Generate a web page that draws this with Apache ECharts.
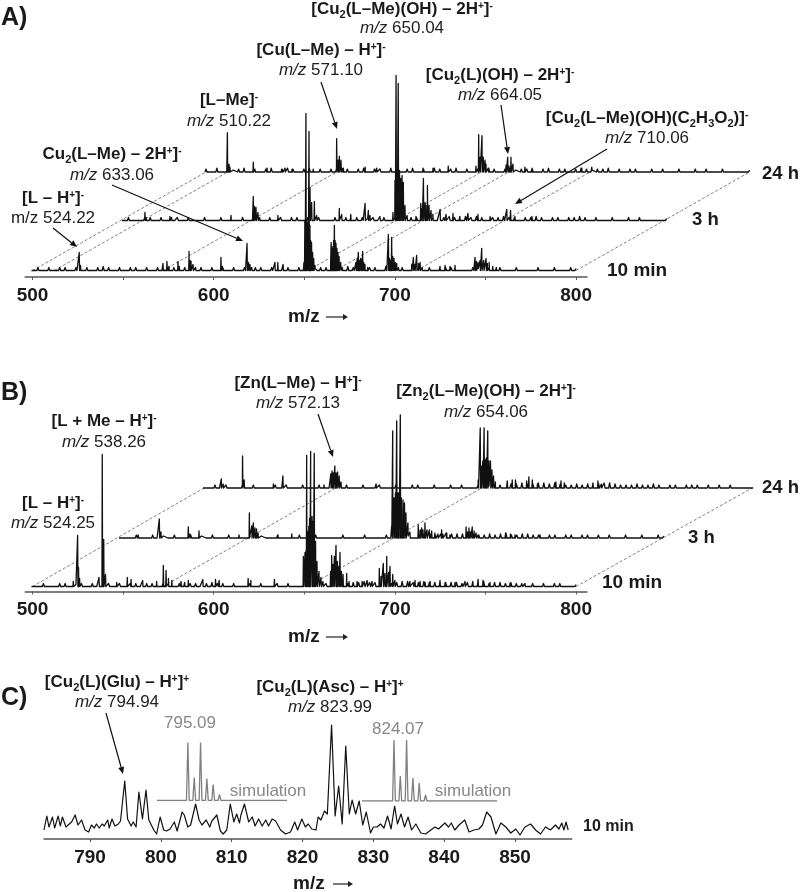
<!DOCTYPE html>
<html><head><meta charset="utf-8">
<style>html,body{margin:0;padding:0;background:#fff}#c{width:800px;height:892px}</style>
<script src="https://cdn.jsdelivr.net/npm/echarts@6/dist/echarts.min.js"></script>
</head><body><div id="c"></div>
<script>
// ---------- Panel A: sticks [m/z, intensity], and baseline noise read every 3 m/z from 500
const peaksA10 = [[525.8,18],[526.5,5],[572,7],[574.2,9],[575.3,4],[580.3,9],[581,4],[586.4,19],[587,10],[587.5,9],[588.6,6],[590,3],[604,13],[604.8,4],[618.4,27],[619.2,8],[620,6],[621,3],[633.8,8],[635.4,8],[638.3,6],
[649.8,8],[650.3,50],[650.9,157],[651.4,50],[652,48],[652.6,139],[653.1,45],[653.5,30],[654,28],[654.6,18],[655.2,12],[655.9,5],[657,3],
[664.8,28],[665.3,24],[665.8,22],[666.2,30],[666.6,45],[667,30],[667.5,27],[668,22],[668.6,18],[669.2,14],[670.1,8],[671,4],
[678.5,8],[679.2,12],[679.8,18],[680.4,10],[681.1,12],[681.6,11],[682.2,19],[682.8,8],[683.5,6],[685,3],
[695.5,5],[696.4,36],[697,12],[697.6,10],[698.2,33],[698.8,14],[699.5,12],[700.2,8],[701,7],[702,3],
[709.3,6],[710.2,13],[711,6],[712,15],[713,7],[713.9,8],[715,3],[724.9,4],[727.7,5],[730.4,4],[733.2,5],
[744.2,13],[745,9],[745.9,8],[747,10],[747.9,22],[749,10],[750.3,12],[751,7],[752,8],[754,4],[756,3]];
const baseA10 = [2,3,2,3,2,3,3,2,3,2,3,2,3,4,3,2,3,2,3,3,2,3,2,3,2,3,3,2,3,2,3,3,2,3,2,3,2,3,2,3,2,3,3,2,3,2,2,3,2,3,3,4,2,3,3,4,2,3,4,3,3,2,3,3,2,4,3,3,3,2,2,3,2,3,2,2,3,3,2,2,2,3,2,2,3,2,3,2,2,3,2,2,2,3,2,2,3,2,2,3,2];
const peaksA3 = [[512.1,8],[512.8,3],[525.9,4],[526.8,3],[528.7,2],[559.6,5],[571.9,24],[572.6,14],[573.4,13],[574.5,8],[575.5,3],[585.5,5],
[603.2,33],[604.1,18],[605.6,19],[606.9,5],[619.4,12],[620.7,6],[625.7,6],[633.6,17],[635.4,10],[636.3,5],[641.8,4],
[649,8],[650.1,40],[650.7,145],[651.2,50],[651.9,137],[652.6,50],[653.2,42],[654,45],[654.7,38],[655.6,15],[656.8,5],[661.7,4],
[664.3,17],[665,12],[665.8,42],[666.7,18],[667.2,15],[668,35],[668.9,15],[670,10],[671,6],[675,11],[678.3,6],[682.1,7],[685.9,4],[690.4,7],[695.9,6],[702.6,4],[711.8,11],[713.9,10],[716.3,4],[725.7,4]];
const baseA3 = [2,3,2,2,3,3,2,3,2,2,3,2,3,2,2,3,2,2,3,2,2,2,3,2,3,2,2,3,2,3,2,3,3,2,3,2,3,2,2,3,2,3,2,3,3,2,3,2,3,2,3,2,2,3,3,2,3,3,2,3,4,3,3,4,3,4,3,2,3,3,4,3,3,2,3,3,4,3,2,3,3,2,3,3,4,3,2,3,2,2,3,2,2,3,2,3,2,2,2,2,2];
const peaksA24 = [[511.8,40],[512.7,8],[513.2,5],[526.1,10],[527,5],[533.7,4],[541.8,3],[543.6,4],[547.5,3],[559.2,3],[572.1,34],[572.9,12],[573.6,16],[574.5,12],[575.8,4],[587.8,5],[594.2,4],[619.8,4],[625.3,4],[633.7,6],
[649,6],[650.5,38],[651.2,15],[652.3,37],[653,15],[654,12],[654.5,8],[655.8,4],[665.6,7],[666.5,15],[667.2,6],[668.3,15],[669.4,8],[671.5,4],[676,5],[679.8,3],[707.4,4],[712.9,5]];
const baseA24 = [3,2,4,2,3,2,3,4,2,3,2,3,4,2,3,4,3,2,3,4,2,3,2,3,3,4,3,2,3,4,2,3,3,2,4,3,2,3,4,2,3,2,4,3,2,3,4,2,3,2,3,2,4,3,2,3,4,2,3,3,4,2,3,4,2,3,3,2,3,4,3,2,3,3,4,2,3,2,3,3,2,2,3,2,3,2,2,3,2,2,3,2,3,2,2,3,2,2,2,2,2];
// ---------- Panel B
const peaksB10 = [[522.5,5],[524.9,51],[525.4,19],[526,8],[536.7,9],[538.5,132],[539.3,47],[540.3,12],[546.5,4],[552.3,9],[554.4,7],[560.8,6],[568.5,5],[572.2,21],[573.7,16],[575,8],[576.9,6],[582,5],[584,6],[586,6],[594,7],[601,7],[603,6],[619,8],[620.5,6],[633.5,7],
[649.5,30],[650.4,34],[651,36],[651.3,131],[652,55],[652.5,60],[652.9,68],[653.5,135],[654.3,70],[654.8,65],[655.5,133],[656.2,45],[657,25],[658.1,15],[659.2,9],[660.3,5],
[664.5,15],[665.1,31],[665.8,22],[666.6,30],[667.5,41],[668.3,25],[669.1,20],[669.7,34],[670.5,15],[671.4,12],[673.4,13],[674.7,5],
[679.1,5],[681.9,5],[684.7,6],[687.4,5],[691.4,18],[692.3,10],[693.6,23],[694.5,13],[695.5,30],[696.5,14],[697.3,20],[698.8,12],[700,6],[708.3,5],[711.1,6],[713.9,5],[716.7,4],[719.4,5],[724.9,6],[727.7,4],[733.2,4],[738.7,5],[743.1,5],[745.9,7],[748.6,6],[752.5,4],[763.5,3],[771.8,3]];
const baseB10 = [2,2,3,2,2,3,3,2,2,3,2,3,2,3,3,2,3,2,3,3,2,3,3,2,3,3,2,3,4,3,3,2,3,4,3,3,2,3,2,2,3,2,3,2,2,3,2,3,2,2,2,3,2,2,3,4,3,3,3,4,4,5,4,4,3,4,3,4,5,5,4,4,5,4,4,3,4,4,4,3,4,5,4,5,3,4,4,3,4,3,3,2,3,2,3,2,3,3,2,2,2];
const peaksB3 = [[510.1,3],[521.7,19],[522.6,6],[537.7,11],[538.6,4],[543.6,7],[565.7,3],[571.4,25],[572.7,12],[573.6,15],[574.5,10],[575.4,9],[576.2,5],[587.2,3],[594.8,4],
[649.9,12],[650.5,107],[651.2,40],[652,45],[652.7,117],[653.4,45],[653.9,45],[654.7,123],[655.3,40],[656.2,38],[657,35],[657.8,25],[658.9,15],[660,6],
[664.6,13],[665.6,8],[666.5,10],[667.2,8],[668.3,15],[669.4,8],[670.7,8],[672,7],[673.8,5],[675.5,4],[677.5,8],[678.2,4],[680.3,5],[682.1,3],[691,11],[691.8,6],[692.6,10],[693.4,6],[694.4,11],[695.4,7],[696.5,5],[697.6,3],[712.8,5],[715.5,4],[718,3],[731.8,3]];
const baseB3 = [2,2,2,3,2,2,3,2,2,2,3,2,2,3,2,2,2,3,2,2,3,2,2,2,2,3,2,2,2,3,2,2,2,3,2,2,3,2,2,2,2,3,2,2,2,3,2,2,2,3,2,2,3,2,2,3,4,4,3,4,5,4,4,4,3,4,3,3,4,3,4,5,3,3,4,4,3,3,2,3,3,2,3,3,2,3,3,2,3,2,3,2,2,3,2,2,3,2,2,3,2];
const peaksB24 = [[509.5,9],[510.5,4],[521.1,32],[522,8],[538,4],[543.2,12],[565.7,3],[569.4,14],[570.1,17],[570.7,15],[571.6,22],[572.3,15],[573.1,16],[574,12],[575,6],[594.2,4],
[650.1,8],[651.2,60],[651.7,22],[652.6,27],[653.3,60],[654,28],[654.5,30],[655.3,57],[655.9,27],[656.8,27],[657.6,18],[658.5,12],[659.5,6],
[666,7],[668.7,8],[670.5,8],[676.6,7],[677.8,11],[679.7,8],[682.5,4],[692.6,6],[695.4,7],[697.2,5],[712.9,5],[715.6,7],[717.5,4]];
const baseB24 = [2,2,3,2,3,2,2,3,2,3,2,2,2,3,2,3,2,2,3,2,2,3,2,2,3,2,3,2,2,3,2,2,3,2,2,3,2,2,3,3,2,2,3,2,2,3,2,3,2,2,3,2,2,3,3,2,4,4,5,4,4,5,5,4,5,4,3,3,4,3,4,3,4,5,5,4,3,3,3,4,3,3,4,3,2,3,3,2,3,3,3,2,3,2,3,2,3,2,2,2,2];
// ---------- Panel C: measured profile [m/z, intensity]
const profileC = [[783.5,9],[783.9,23],[784.2,12],[784.7,22],[785,11],[785.5,23],[785.8,13],[786.1,22],[786.6,12],[786.9,14],[787.4,17],[787.9,24],[788.3,14],[788.8,19],[789.3,9],[789.8,7],[790.2,14],[790.6,11],[790.9,15],[791.3,11],[791.7,15],[792,13],[792.5,19],[792.7,11],[793.1,20],[793.5,13],[794,15],[794.3,18],[794.9,58],[795.3,20],[795.8,13],[796.1,17],[796.5,12],[796.9,47],[797.4,20],[797.9,49],[798.3,19],[799,9],[799.4,5],[799.9,22],[800.4,9],[800.8,8],[801.3,10],[801.9,17],[802.3,8],[803,27],[803.3,24],[803.8,12],[804.2,14],[804.9,35],[805.4,19],[805.8,14],[806.4,19],[806.9,12],[807.2,18],[807.9,24],[808.4,8],[808.8,5],[809.3,9],[809.8,35],[810.3,17],[810.7,25],[811.1,16],[811.3,24],[811.8,35],[812.4,17],[812.9,22],[813.3,13],[813.8,20],[814.3,13],[814.8,19],[815.2,13],[815.7,20],[816.2,18],[816.9,9],[817.6,5],[818.3,7],[818.9,17],[819.3,9],[819.9,20],[820.4,12],[820.8,15],[821.3,10],[821.9,9],[822.2,22],[822.6,19],[823.1,28],[823.5,25],[824.1,114],[824.6,23],[825.1,53],[825.6,15],[826.1,93],[826.6,25],[827,39],[827.5,25],[828,38],[828.5,14],[829,27],[829.6,6],[830,12],[830.5,12],[831,15],[831.5,11],[832,23],[832.5,10],[833,33],[833.4,15],[833.9,25],[834.4,12],[834.9,22],[835.4,9],[836,15],[836.7,6],[837.4,5],[838.1,9],[838.7,12],[839.2,10],[840.1,16],[840.6,12],[841,16],[841.5,9],[842.1,14],[842.9,19],[843.5,7],[844.2,9],[844.9,10],[845.4,14],[846,27],[846.6,22],[847.3,5],[848,16],[848.7,12],[849.4,6],[850.1,10],[850.7,4],[851.4,12],[852.2,15],[852.9,9],[853.6,5],[854.3,12],[855,9],[855.7,14],[856.2,10],[856.6,16],[856.9,9],[857.2,17],[857.5,9]];
const simMz1 = [795.09,796.1,797.1,798.1,799.1,800.1,801.1];
const simI1  = [58,23,58,22,16,6,1];
const simMz2 = [824.07,825.07,826.07,827.07,828.07,829.07,830.07];
const simI2  = [61,25,61,23,18,6,1];
// ---------- Axis tick labels
const tickMzLabels = [500,600,700,800];
const tickMzMarks  = [500,550,600,650,700,750,800];
const tickCLabels  = [790,800,810,820,830,840,850];
// ---------- Guides joining the spectra
const guidesA = [500,512,572,652,667,712,800];
const guidesB = [500,572,652,800];

const FONT = '"Liberation Sans", Arial, sans-serif';
const H = 175;
function sticks(peaks, base){
  const p = [];
  base.forEach((v,i)=>{const m=500+3*i; p.push([m-0.55,0],[m,v],[m+0.55,0]);});
  peaks.forEach(([m,h])=>{p.push([m-0.18,0],[m,h],[m+0.18,0]);});
  return p.sort((a,b)=>a[0]-b[0]);
}
const S = 1.812;
const traces = [
 {peaks:peaksA10,base:baseA10,x0:32.5,s:S,y0:270.5,axis:6.5},
 {peaks:peaksA3, base:baseA3, x0:123, s:S,y0:220.5},
 {peaks:peaksA24,base:baseA24,x0:206, s:S,y0:172},
 {peaks:peaksB10,base:baseB10,x0:32.5,s:S,y0:586.5,axis:5},
 {peaks:peaksB3, base:baseB3, x0:120, s:S,y0:538},
 {peaks:peaksB24,base:baseB24,x0:204, s:1.827,y0:488},
];
const grid=[],xAxis=[],yAxis=[],series=[];
const axisCommon = {
  axisLine:{show:true,onZero:false,lineStyle:{color:'#555',width:1.5}},
  axisTick:{show:true,length:3,lineStyle:{color:'#555',width:1}},
  axisLabel:{show:true,color:'#1a1a1a',fontFamily:FONT,fontWeight:'bold',fontSize:19,margin:9},
  splitLine:{show:false}
};
function addGrid(left,width,y0,x){
  const i=grid.length;
  grid.push({left,width,top:y0-H,height:H,containLabel:false});
  xAxis.push(Object.assign({type:'value',gridIndex:i,position:'bottom'},x));
  yAxis.push({type:'value',gridIndex:i,min:0,max:H,show:false});
  return i;
}
traces.forEach(t=>{
  const x = t.axis!==undefined ? Object.assign({},axisCommon,{
      min:496,max:806,offset:t.axis,
      axisTick:Object.assign({},axisCommon.axisTick,{customValues:tickMzMarks}),
      axisLabel:Object.assign({},axisCommon.axisLabel,{customValues:tickMzLabels})
    }) : {min:496,max:806,show:false};
  const i=addGrid(t.x0-4*t.s,310*t.s,t.y0,x);
  t.idx=i;
  series.push({type:'line',xAxisIndex:i,yAxisIndex:i,data:sticks(t.peaks,t.base),symbol:'none',clip:false,silent:true,
    lineStyle:{color:'#111',width:1.3,join:'round'}});
});
// Panel C
const iC=addGrid(44,527.7,839,Object.assign({},axisCommon,{min:783.5,max:858,
  axisTick:Object.assign({},axisCommon.axisTick,{customValues:tickCLabels}),
  axisLabel:Object.assign({},axisCommon.axisLabel,{customValues:tickCLabels})}));
series.push({type:'line',xAxisIndex:iC,yAxisIndex:iC,data:profileC,symbol:'none',silent:true,lineStyle:{color:'#111',width:1.2,join:'round'}});
function sim(mz,int,lo,hi){
  const p=[[lo,0]];
  mz.forEach((m,k)=>p.push([m-0.22,0],[m,int[k]],[m+0.22,0]));
  p.push([hi,0]);
  return p;
}
const iS1=addGrid(157,130,800.5,{min:790.2,max:810.8,show:false});
const iS2=addGrid(362,135,801,{min:819,max:840.4,show:false});
series.push({type:'line',xAxisIndex:iS1,yAxisIndex:iS1,data:sim(simMz1,simI1,790.2,810.8),symbol:'none',silent:true,lineStyle:{color:'#808080',width:1.3}});
series.push({type:'line',xAxisIndex:iS2,yAxisIndex:iS2,data:sim(simMz2,simI2,819,840.4),symbol:'none',silent:true,lineStyle:{color:'#808080',width:1.3}});

const chart=echarts.init(document.getElementById('c'),null,{renderer:'canvas',width:800,height:892});
chart.setOption({animation:false,backgroundColor:'#fff',grid,xAxis,yAxis,series});

// ---------- Text
const rich={
 b:{fontFamily:FONT,fontWeight:'bold',fontSize:17,lineHeight:22,fill:'#1a1a1a'},
 bs:{fontFamily:FONT,fontWeight:'bold',fontSize:11,lineHeight:22,verticalAlign:'bottom',fill:'#1a1a1a'},
 bu:{fontFamily:FONT,fontWeight:'bold',fontSize:10,lineHeight:18,verticalAlign:'middle',padding:[0,0,6,0],fill:'#1a1a1a'},
 i:{fontFamily:FONT,fontStyle:'italic',fontSize:17,lineHeight:22,fill:'#222'},
 r:{fontFamily:FONT,fontSize:17,lineHeight:22,fill:'#222'}
};
function markup(str){
  return str.split(/(_\d|\^.)/).filter(Boolean).map(p=>
    p[0]==='_'?`{bs|${p[1]}}`:p[0]==='^'?`{bu|${p[1]}}`:`{b|${p}}`).join('');
}
const g=[];
function addRich(text,x,y){
  g.push({type:'text',x,y,z:10,style:{text,align:'center',verticalAlign:'middle',rich,fill:'#1a1a1a',font:`17px ${FONT}`}});
}
function label(s,cx,y1,val,y2,plain){
  addRich(markup(s),cx,y1);
  addRich((plain?'{r|m/z }':'{i|m/z}{r| }')+`{r|${val}}`,cx,y2);
}
label('[Cu_2(L–Me)(OH) – 2H^+]^-',402,9,'650.04',28);
label('[Cu(L–Me) – H^+]^-',321,50,'571.10',70);
label('[L–Me]^-',229,100,'510.22',121);
label('Cu_2(L–Me) – 2H^+]^-',112,154,'633.06',175);
label('[L – H^+]^-',53,198,'524.22',218,true);
label('[Cu_2(L)(OH) – 2H^+]^-',500,75,'664.05',95);
label('[Cu_2(L–Me)(OH)(C_2H_3O_2)]^-',647,118,'710.06',138);
label('[L + Me – H^+]^-',104,421,'538.26',442);
label('[L – H^+]^-',53,503,'524.25',523);
label('[Zn(L–Me) – H^+]^-',298,383,'572.13',403);
label('[Zn_2(L–Me)(OH) – 2H^+]^-',486,391,'654.06',412);
label('[Cu_2(L)(Glu) – H^+]^+',117,682,'794.94',702);
label('[Cu_2(L)(Asc) – H^+]^+',330,687,'823.99',707);
function txt(text,x,y,size,weight,color,align){
  g.push({type:'text',x,y,z:10,style:{text,align:align||'left',verticalAlign:'middle',fill:color||'#1a1a1a',font:`${weight||'bold'} ${size}px ${FONT}`}});
}
txt('A)',1,18,25); txt('B)',1,393,25); txt('C)',1,698,25);
txt('24 h',762,174,18.5); txt('3 h',692,220,18.5); txt('10 min',607,271,19);
txt('24 h',762,488,18.5); txt('3 h',688,538,18.5); txt('10 min',602,583,19);
txt('10 min',583,827,16);
txt('795.09',190,723,17,'normal','#888','center');
txt('824.07',398,729,17,'normal','#888','center');
txt('simulation',268,791,17,'normal','#888','center');
txt('simulation',473,791,17,'normal','#888','center');
function mzArrow(tx,ax,bx,y){
  txt('m/z',tx,y,19);
  arrow(ax,y,bx,y,'#222',5,3);
}
function arrow(x1,y1,x2,y2,c,len,w){
  const a=Math.atan2(y2-y1,x2-x1),ux=Math.cos(a),uy=Math.sin(a);
  const bx=x2-ux*len,by=y2-uy*len;
  g.push({type:'line',z:9,shape:{x1,y1,x2:bx,y2:by},style:{stroke:c,lineWidth:1.2}});
  g.push({type:'polygon',z:9,shape:{points:[[x2,y2],[bx-uy*w,by+ux*w],[bx+uy*w,by-ux*w]]},style:{fill:c}});
}
mzArrow(288,326,348,317); mzArrow(288,326,348,637); mzArrow(293,333,353,884);
[[321,82,337,129],[53,228,77,247],[112,185,243,241],[501,105,508,154],[607,149,515,204],[318,414,333,457],[106,713,123,774]]
 .forEach(a=>arrow(a[0],a[1],a[2],a[3],'#111',7,3));
// Guides
function guides(list,iFront,iBack){
  list.forEach(m=>{
    const a=chart.convertToPixel({gridIndex:iFront},[m,0]);
    const b=chart.convertToPixel({gridIndex:iBack},[m,0]);
    g.push({type:'line',z:1,shape:{x1:a[0],y1:a[1],x2:b[0],y2:b[1]},style:{stroke:'#808080',lineWidth:1,lineDash:[3,2]}});
  });
}
guides(guidesA,0,2); guides(guidesB,3,5);
chart.setOption({graphic:{elements:g}});
</script></body></html>
